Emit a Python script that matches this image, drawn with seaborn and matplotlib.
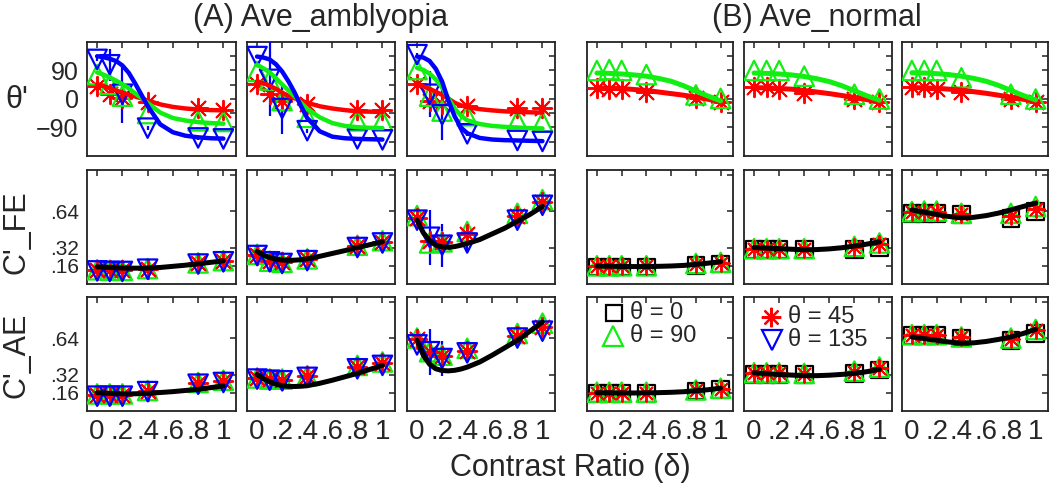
import matplotlib
matplotlib.use("Agg")
import matplotlib.pyplot as plt
import matplotlib.transforms as mtransforms
import seaborn as sns

sns.set_style("white")
plt.rcParams["font.family"] = ["Liberation Sans", "DejaVu Sans"]

RED = "#ff0000"
GREEN = "#11ee11"
BLUE = "#0000ff"
BLACK = "#000000"

# contrast ratios of the measured points
delta = [0, 0.1, 0.2, 0.4, 0.8, 1.0]
fit_x_amb = [0, 0.05, 0.1, 0.15, 0.2, 0.25, 0.3, 0.35, 0.4, 0.5, 0.6, 0.7, 0.8, 0.9, 1.0]
fit_x_norm = [0, 0.1, 0.2, 0.3, 0.4, 0.5, 0.6, 0.7, 0.8, 0.9, 1.0]

# ---- (A) amblyopia, theta' (one list per column) ----
amb_theta_fit_45 = [
    [47, 41, 34, 27, 20, 14, 8, 2, -5, -17, -25, -30, -33, -35, -36],
    [56, 50, 42, 32, 20, 10, 2, -5, -12, -23, -30, -35, -39, -40, -41],
    [46, 40, 32, 23, 13, 1, -12, -20, -26, -32, -36, -39, -41, -42, -43],
]
amb_theta_fit_90 = [
    [84, 77, 68, 58, 47, 34, 18, 4, -12, -43, -60, -68, -73, -76, -78],
    [108, 97, 84, 66, 46, 27, 8, -12, -31, -58, -76, -85, -89, -91, -92],
    [98, 92, 80, 62, 36, 2, -30, -53, -67, -79, -85, -88, -90, -92, -93],
]
amb_theta_fit_135 = [
    [135, 132, 127, 120, 106, 83, 50, 14, -22, -80, -105, -116, -121, -124, -125],
    [134, 131, 125, 110, 87, 56, 20, -22, -60, -102, -119, -124, -126, -127, -128],
    [134, 131, 120, 95, 55, -5, -55, -90, -108, -123, -128, -130, -131, -132, -133],
]
amb_theta_45 = [[41, 15, 4, -8, -29, -35], [46, 15, -6, -17, -35, -35], [46, -6, -17, -22, -27, -30]]
amb_theta_90 = [[77, 46, 9, -46, -69, -71], [87, 60, -5, -58, -69, -69], [93, 9, -38, -53, -69, -72]]
amb_theta_135 = [[125, 108, 15, -92, -123, -126], [134, 62, -30, -100, -126, -129], [140, 15, -50, -110, -131, -134]]
amb_theta_135_err = [[4, 50, 90, 6, 5, 4], [4, 117, 80, 6, 5, 4], [4, 72, 80, 6, 5, 4]]

# ---- (B) normal, theta' ----
norm_theta_fit_45 = [
    [35, 34, 33, 30, 27, 22, 17, 12, 6, -1, -8],
    [36, 35, 33, 31, 27, 22, 17, 11, 5, -2, -8],
    [36, 35, 34, 31, 28, 23, 18, 12, 6, -1, -7],
]
norm_theta_fit_90 = [
    [82, 81, 79, 76, 72, 65, 56, 42, 25, 9, -6],
    [82, 81, 79, 76, 71, 64, 55, 42, 26, 10, -4],
    [83, 82, 80, 77, 72, 65, 56, 43, 27, 11, -3],
]
norm_theta_45 = [[35, 33, 33, 23, 2, -8], [37, 37, 33, 20, 0, -10], [37, 37, 33, 23, 0, -8]]
norm_theta_90 = [[90, 93, 90, 77, 13, 2], [90, 90, 90, 72, 15, 0], [90, 90, 90, 67, 15, 0]]

# ---- (A) amblyopia, C'_FE ----
amb_fe_fit = [
    [0.150, 0.148, 0.145, 0.142, 0.140, 0.139, 0.139, 0.139, 0.140, 0.145, 0.155, 0.165, 0.177, 0.190, 0.203],
    [0.285, 0.255, 0.232, 0.218, 0.210, 0.208, 0.209, 0.213, 0.220, 0.243, 0.268, 0.293, 0.320, 0.345, 0.370],
    [0.56, 0.45, 0.38, 0.34, 0.325, 0.322, 0.328, 0.34, 0.355, 0.39, 0.44, 0.49, 0.55, 0.61, 0.68],
]
amb_fe_45 = [[0.125, 0.12, 0.12, 0.135, 0.185, 0.2], [0.255, 0.2, 0.19, 0.215, 0.335, 0.37], [0.58, 0.38, 0.37, 0.44, 0.6, 0.72]]
amb_fe_90 = [[0.125, 0.12, 0.12, 0.135, 0.185, 0.205], [0.26, 0.2, 0.19, 0.22, 0.34, 0.38], [0.6, 0.36, 0.37, 0.46, 0.62, 0.74]]
amb_fe_135 = [[0.115, 0.11, 0.11, 0.13, 0.175, 0.195], [0.25, 0.195, 0.18, 0.205, 0.32, 0.36], [0.56, 0.41, 0.34, 0.36, 0.56, 0.69]]
amb_fe_45_err = [[0.01, 0.01, 0.01, 0.01, 0.01, 0.01], [0.01, 0.01, 0.01, 0.01, 0.01, 0.01], [0.02, 0.03, 0.03, 0.07, 0.03, 0.02]]
amb_fe_135_err = [[0.01, 0.01, 0.01, 0.01, 0.01, 0.01], [0.01, 0.01, 0.01, 0.01, 0.01, 0.01], [0.02, 0.24, 0.19, 0.08, 0.02, 0.02]]

# ---- (A) amblyopia, C'_AE ----
amb_ae_fit = [
    [0.160, 0.158, 0.155, 0.152, 0.150, 0.150, 0.151, 0.153, 0.155, 0.162, 0.170, 0.180, 0.190, 0.205, 0.220],
    [0.320, 0.285, 0.257, 0.236, 0.222, 0.216, 0.215, 0.217, 0.222, 0.243, 0.270, 0.300, 0.330, 0.365, 0.400],
    [0.62, 0.49, 0.41, 0.37, 0.355, 0.352, 0.357, 0.368, 0.385, 0.43, 0.49, 0.555, 0.62, 0.70, 0.78],
]
amb_ae_45 = [[0.14, 0.14, 0.14, 0.175, 0.245, 0.26], [0.29, 0.28, 0.275, 0.305, 0.39, 0.42], [0.63, 0.52, 0.48, 0.53, 0.66, 0.74]]
amb_ae_90 = [[0.15, 0.15, 0.15, 0.18, 0.25, 0.27], [0.29, 0.28, 0.28, 0.31, 0.40, 0.43], [0.64, 0.52, 0.49, 0.55, 0.68, 0.77]]
amb_ae_135 = [[0.13, 0.13, 0.13, 0.17, 0.235, 0.25], [0.28, 0.27, 0.265, 0.295, 0.37, 0.40], [0.58, 0.52, 0.46, 0.51, 0.64, 0.70]]
amb_ae_135_err = [[0.01, 0.01, 0.01, 0.01, 0.01, 0.01], [0.01, 0.01, 0.01, 0.01, 0.01, 0.01], [0.02, 0.2, 0.15, 0.03, 0.02, 0.02]]

# ---- (B) normal, C'_FE ----
norm_fe_fit = [
    [0.158, 0.156, 0.154, 0.153, 0.153, 0.155, 0.158, 0.163, 0.172, 0.183, 0.196],
    [0.32, 0.315, 0.31, 0.305, 0.30, 0.302, 0.308, 0.318, 0.333, 0.35, 0.37],
    [0.65, 0.63, 0.61, 0.592, 0.58, 0.585, 0.6, 0.622, 0.65, 0.68, 0.71],
]
norm_fe_0 = [[0.15, 0.15, 0.15, 0.15, 0.165, 0.175], [0.3, 0.3, 0.3, 0.3, 0.3, 0.32], [0.62, 0.62, 0.62, 0.61, 0.575, 0.635]]
norm_fe_90 = [[0.16, 0.16, 0.16, 0.16, 0.18, 0.19], [0.31, 0.31, 0.31, 0.31, 0.33, 0.36], [0.635, 0.64, 0.64, 0.62, 0.62, 0.68]]
norm_fe_45 = [[0.155, 0.155, 0.155, 0.155, 0.175, 0.185], [0.305, 0.305, 0.305, 0.305, 0.325, 0.35], [0.63, 0.63, 0.63, 0.615, 0.6, 0.66]]

# ---- (B) normal, C'_AE ----
norm_ae_fit = [
    [0.16, 0.16, 0.158, 0.158, 0.159, 0.161, 0.164, 0.169, 0.177, 0.187, 0.2],
    [0.335, 0.328, 0.32, 0.315, 0.31, 0.31, 0.314, 0.321, 0.33, 0.345, 0.365],
    [0.65, 0.635, 0.62, 0.605, 0.595, 0.598, 0.61, 0.628, 0.65, 0.68, 0.716],
]
norm_ae_0 = [[0.155, 0.155, 0.155, 0.155, 0.175, 0.19], [0.32, 0.32, 0.32, 0.32, 0.33, 0.36], [0.66, 0.66, 0.66, 0.64, 0.617, 0.68]]
norm_ae_90 = [[0.165, 0.165, 0.165, 0.165, 0.185, 0.2], [0.335, 0.335, 0.335, 0.33, 0.35, 0.385], [0.67, 0.67, 0.67, 0.65, 0.64, 0.715]]
norm_ae_45 = [[0.16, 0.16, 0.16, 0.16, 0.18, 0.195], [0.33, 0.33, 0.33, 0.325, 0.345, 0.38], [0.665, 0.665, 0.665, 0.645, 0.635, 0.71]]

x_ticks = [0, 0.2, 0.4, 0.6, 0.8, 1.0]
x_ticklabels = ["0", ".2", ".4", ".6", ".8", "1"]
theta_ticks = [-90, 0, 90]
theta_ticklabels = ["\u221290", "0", "90"]
c_ticks = [0.16, 0.32, 0.64, 0.96]
c_ticklabels = [".16", ".32", ".64", ""]

ASTERISK = (8, 2, 0)


def points(ax, y, color, marker, err=None, size=14, z=3):
    if err is not None:
        ax.errorbar(delta, y, yerr=err, fmt="none", ecolor=color, elinewidth=1.6, zorder=z - 0.5)
    if marker == "*":
        sns.scatterplot(x=delta, y=y, marker=ASTERISK, s=size ** 2, color=color,
                        linewidth=1.4, ax=ax, zorder=z)
    else:
        sns.scatterplot(x=delta, y=y, marker=marker, s=size ** 2, color=color,
                        facecolor="none", edgecolor=color, linewidth=1.6, ax=ax, zorder=z)


def fit(ax, x, y, color, lw=3.2):
    sns.lineplot(x=x, y=y, color=color, linewidth=lw, ax=ax, zorder=5)


def frame(ax, row, col):
    ax.set_xlim(-0.08, 1.1)
    ax.set_xticks(x_ticks)
    ax.set_xticklabels(x_ticklabels if row == 2 else [], fontsize=20)
    if row == 0:
        ax.set_ylim(-180, 180)
        ax.set_yticks(theta_ticks)
        ax.set_yticks([-135, -45, 45, 135], minor=True)
        ax.set_yticklabels(theta_ticklabels if col == 0 else [], fontsize=18)
    else:
        ax.set_ylim(0, 1)
        ax.set_yticks(c_ticks)
        ax.set_yticklabels(c_ticklabels if col == 0 else [], fontsize=15)
        if col == 0:
            # the .16 and .32 ticks sit close: spread their labels a little
            labs = ax.get_yticklabels()
            for lab, dy in zip(labs, [-3, 3, 0, 0]):
                off = mtransforms.ScaledTranslation(0, dy / 72.0 * 0.72, fig.dpi_scale_trans)
                lab.set_transform(lab.get_transform() + off)
    ax.tick_params(which="both", direction="in", length=4, width=1.1, top=True, right=True,
                   color="#222222", pad=6)
    for s in ax.spines.values():
        s.set_linewidth(1.3)
        s.set_color("#222222")
    ax.set_xlabel("")
    ax.set_ylabel("")


fig = plt.figure(figsize=(10.5, 4.86), dpi=100)
W, H = 1050.0, 486.0
cols_px = [(87, 236), (247, 395), (407, 555), (587, 733), (744, 892), (902, 1048)]
rows_px = [(42, 156), (170, 284), (297, 411)]
axes = {}
for r, (top, bot) in enumerate(rows_px):
    for c, (lft, rgt) in enumerate(cols_px):
        axes[r, c] = fig.add_axes([lft / W, 1 - bot / H, (rgt - lft) / W, (bot - top) / H])

for i in range(3):
    # amblyopia theta'
    ax = axes[0, i]
    points(ax, amb_theta_45[i], RED, "*")
    points(ax, amb_theta_90[i], GREEN, "^", z=3.1)
    points(ax, amb_theta_135[i], BLUE, "v", err=amb_theta_135_err[i], z=3.2)
    fit(ax, fit_x_amb, amb_theta_fit_45[i], RED)
    fit(ax, fit_x_amb, amb_theta_fit_90[i], GREEN)
    fit(ax, fit_x_amb, amb_theta_fit_135[i], BLUE)

    # amblyopia C'_FE / C'_AE
    for r, f, p45, p90, p135, e45, e135 in [
        (1, amb_fe_fit, amb_fe_45, amb_fe_90, amb_fe_135, amb_fe_45_err, amb_fe_135_err),
        (2, amb_ae_fit, amb_ae_45, amb_ae_90, amb_ae_135, None, amb_ae_135_err),
    ]:
        ax = axes[r, i]
        points(ax, p90[i], GREEN, "^", z=3.0)
        points(ax, p45[i], RED, "*", err=None if e45 is None else e45[i], z=3.1)
        points(ax, p135[i], BLUE, "v", err=e135[i], z=3.2)
        fit(ax, fit_x_amb, f[i], BLACK, lw=3.6)

    # normal theta'
    ax = axes[0, i + 3]
    points(ax, norm_theta_45[i], RED, "*")
    points(ax, norm_theta_90[i], GREEN, "^", z=3.1)
    fit(ax, fit_x_norm, norm_theta_fit_45[i], RED, lw=3.6)
    fit(ax, fit_x_norm, norm_theta_fit_90[i], GREEN, lw=3.6)

    # normal C'_FE / C'_AE
    for r, f, p0, p45, p90 in [
        (1, norm_fe_fit, norm_fe_0, norm_fe_45, norm_fe_90),
        (2, norm_ae_fit, norm_ae_0, norm_ae_45, norm_ae_90),
    ]:
        ax = axes[r, i + 3]
        points(ax, p0[i], BLACK, "s", size=12, z=3.0)
        points(ax, p90[i], GREEN, "^", z=3.1)
        points(ax, p45[i], RED, "*", size=12, z=3.2)
        fit(ax, fit_x_norm, f[i], BLACK, lw=3.6)

for (r, c), ax in axes.items():
    frame(ax, r, c)

# legend written inside the bottom normal panels
leg_fs = 17
ax = axes[2, 3]
ax.plot([0.185], [0.86], marker="s", ms=11, mfc="none", mec=BLACK, mew=1.6, transform=ax.transAxes)
ax.text(0.295, 0.86, "\u03b8 = 0", transform=ax.transAxes, va="center", fontsize=leg_fs)
ax.plot([0.178], [0.66], marker="^", ms=14, mfc="none", mec=GREEN, mew=1.6, transform=ax.transAxes)
ax.text(0.295, 0.66, "\u03b8 = 90", transform=ax.transAxes, va="center", fontsize=leg_fs)
ax = axes[2, 4]
ax.plot([0.182], [0.825], marker=ASTERISK, ms=14, color=RED, mew=1.6, transform=ax.transAxes)
ax.text(0.297, 0.825, "\u03b8 = 45", transform=ax.transAxes, va="center", fontsize=leg_fs)
ax.plot([0.189], [0.62], marker="v", ms=14, mfc="none", mec=BLUE, mew=1.6, transform=ax.transAxes)
ax.text(0.297, 0.62, "\u03b8 = 135", transform=ax.transAxes, va="center", fontsize=leg_fs)

fig.text(321 / W, 1 - 18 / H, "(A) Ave_amblyopia", ha="center", va="center", fontsize=22)
fig.text(817 / W, 1 - 18 / H, "(B) Ave_normal", ha="center", va="center", fontsize=22)
fig.text(570 / W, 1 - 468 / H, "Contrast Ratio (\u03b4)", ha="center", va="center", fontsize=22)
fig.text(17 / W, 1 - 100 / H, "\u03b8'", ha="center", va="center", fontsize=22)
fig.text(17 / W, 1 - 232 / H, "C'_FE", ha="center", va="center", rotation=90, fontsize=22)
fig.text(17 / W, 1 - 355 / H, "C'_AE", ha="center", va="center", rotation=90, fontsize=22)

fig.savefig("out.png", dpi=100)
